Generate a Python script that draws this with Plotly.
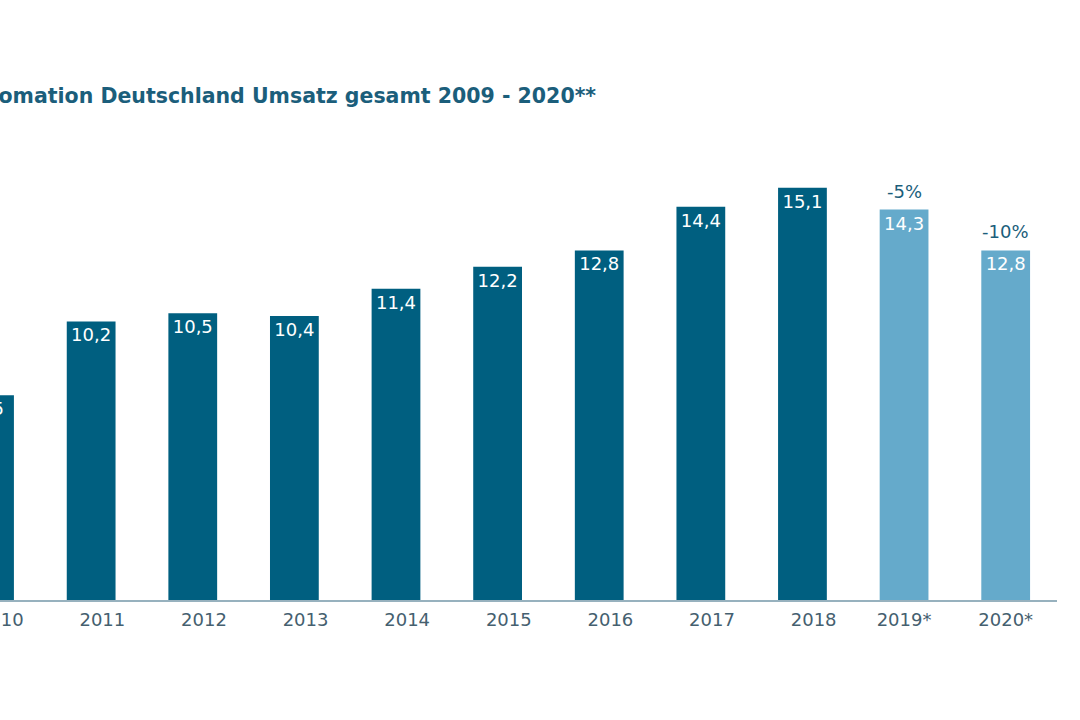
import plotly.graph_objects as go

years = ["2010", "2011", "2012", "2013", "2014", "2015", "2016", "2017", "2018", "2019*", "2020*"]
revenue = [7.5, 10.2, 10.5, 10.4, 11.4, 12.2, 12.8, 14.4, 15.1, 14.3, 12.8]
forecast = [False] * 9 + [True, True]
change_labels = {"2019*": "-5%", "2020*": "-10%"}
title_text = "Robotik und Automation Deutschland Umsatz gesamt 2009 - 2020**"

DARK = "#005f80"
LIGHT = "#65aacb"
TEXT = "#1b5e7b"
TICK = "#45606f"
FONT = "DejaVu Sans"

colors = [LIGHT if f else DARK for f in forecast]
pos = list(range(len(years)))
# tick labels of the plain years sit slightly right of their bars in the original
tick_pos = [p if f else p + 0.11 for p, f in zip(pos, forecast)]

fig = go.Figure()
fig.add_trace(go.Bar(
    x=pos, y=revenue, marker_color=colors, width=0.48,
    marker_line_width=0, hoverinfo="skip",
    text=[f"{v:.1f}".replace(".", ",") for v in revenue],
    textposition="inside", insidetextanchor="end", textangle=0,
    insidetextfont=dict(family=FONT, size=18, color="white"),
))

for i, (yr, v) in enumerate(zip(years, revenue)):
    if yr in change_labels:
        fig.add_annotation(x=i, y=v, text=change_labels[yr], showarrow=False,
                           yanchor="bottom", yshift=6, xref="x", yref="y",
                           font=dict(family=FONT, size=18, color=TEXT))

fig.add_annotation(x=598 / 1057, y=(600 - 96) / 450, xref="paper", yref="paper",
                   text=f"<b>{title_text}</b>",
                   showarrow=False, xanchor="right", yanchor="middle",
                   font=dict(family=FONT, size=20.5, color=TEXT))

fig.update_layout(
    width=1080, height=720,
    margin=dict(l=0, r=23, t=150, b=120, autoexpand=False),
    plot_bgcolor="white", paper_bgcolor="white",
    showlegend=False,
    uniformtext=dict(mode=False),
    xaxis=dict(range=[0.103, 10.505], tickmode="array", tickvals=tick_pos,
               ticktext=years, showgrid=False, zeroline=False, automargin=False,
               showline=True, linecolor="#97b1be", linewidth=1.5, ticks="",
               ticklabeloverflow="allow", ticklabelstandoff=3,
               tickfont=dict(family=FONT, size=18, color=TICK)),
    yaxis=dict(range=[0, 16.48], visible=False),
)

fig.write_html("out.html")
